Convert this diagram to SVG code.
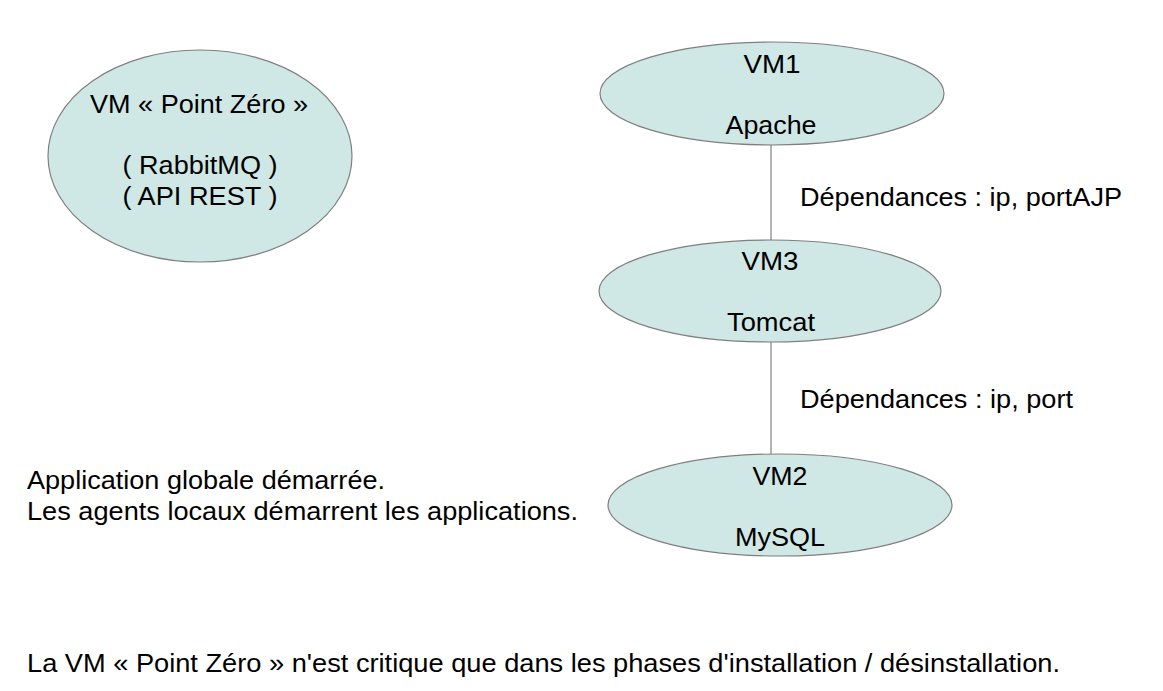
<svg xmlns="http://www.w3.org/2000/svg" width="1163" height="691" viewBox="0 0 1163 691">
<style>
.n{fill:#cfe7e5;stroke:#7f7f7f;stroke-width:1.2}
text{font-family:"Liberation Sans",Arial,sans-serif;font-size:25px;fill:#000}
.c{text-anchor:middle}
.e{stroke:#808080;stroke-width:1.2;fill:none}
</style>
<rect width="1163" height="691" fill="#fff"/>
<g id="connectors">
<line class="e" x1="771" y1="145" x2="771" y2="240"/>
<line class="e" x1="771" y1="342" x2="771" y2="454"/>
</g>
<g id="pointzero">
<ellipse class="n" cx="200" cy="156" rx="152" ry="106"/>
<text class="c" x="199" y="113" textLength="218" lengthAdjust="spacingAndGlyphs">VM « Point Zéro »</text>
<text class="c" x="200" y="174" textLength="155" lengthAdjust="spacingAndGlyphs">( RabbitMQ )</text>
<text class="c" x="200" y="205" textLength="155" lengthAdjust="spacingAndGlyphs">( API REST )</text>
</g>
<g id="vm1">
<ellipse class="n" cx="772" cy="93.5" rx="172" ry="51.5"/>
<text class="c" x="772" y="73" textLength="57" lengthAdjust="spacingAndGlyphs">VM1</text>
<text class="c" x="771" y="134" textLength="91" lengthAdjust="spacingAndGlyphs">Apache</text>
</g>
<g id="vm3">
<ellipse class="n" cx="770" cy="291" rx="171" ry="51"/>
<text class="c" x="770" y="270" textLength="57" lengthAdjust="spacingAndGlyphs">VM3</text>
<text class="c" x="771" y="331" textLength="88" lengthAdjust="spacingAndGlyphs">Tomcat</text>
</g>
<g id="vm2">
<ellipse class="n" cx="780" cy="505" rx="172" ry="51"/>
<text class="c" x="780" y="485" textLength="55" lengthAdjust="spacingAndGlyphs">VM2</text>
<text class="c" x="780" y="546" textLength="90" lengthAdjust="spacingAndGlyphs">MySQL</text>
</g>
<g id="labels">
<text x="800" y="206" textLength="322" lengthAdjust="spacingAndGlyphs">Dépendances : ip, portAJP</text>
<text x="800" y="408" textLength="273" lengthAdjust="spacingAndGlyphs">Dépendances : ip, port</text>
<text x="27" y="489" textLength="358" lengthAdjust="spacingAndGlyphs">Application globale démarrée.</text>
<text x="27" y="520" textLength="551" lengthAdjust="spacingAndGlyphs">Les agents locaux démarrent les applications.</text>
<text x="27" y="672" textLength="1033" lengthAdjust="spacingAndGlyphs">La VM « Point Zéro » n'est critique que dans les phases d'installation / désinstallation.</text>
</g>
</svg>
